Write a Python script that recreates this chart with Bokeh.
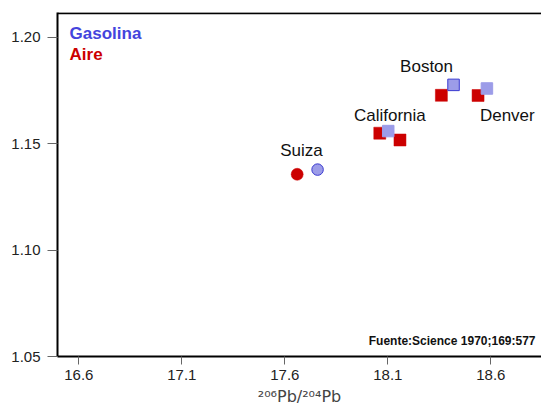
from bokeh.plotting import figure
from bokeh.models import ColumnDataSource, FixedTicker, PrintfTickFormatter, Span, Label
from bokeh.core.properties import value
from bokeh.embed import file_html
from bokeh.resources import INLINE

# ---- data ----
gas_sites = ["Suiza", "California", "Boston", "Denver"]
gas_x = [17.759, 18.102, 18.419, 18.581]
gas_y = [1.1378, 1.1559, 1.1776, 1.1759]
gas_marker = ["circle", "square", "square", "square"]

air_sites = ["Suiza", "California", "California", "Boston", "Denver"]
air_x = [17.660, 18.061, 18.159, 18.360, 18.538]
air_y = [1.1356, 1.1549, 1.1517, 1.1727, 1.1726]
air_marker = ["circle", "square", "square", "square", "square"]

label_names = ["Suiza", "California", "Boston", "Denver"]
label_x = [17.681, 18.110, 18.288, 18.680]
label_y = [1.1466, 1.1634, 1.1864, 1.1634]

x_ticks = [16.6, 17.1, 17.6, 18.1, 18.6]
y_ticks = [1.05, 1.10, 1.15, 1.20]

FONT = "Liberation Sans"
RED = "#cc0000"
BLUE_TXT = "#4444dd"
BLUE_FILL = "#9c9ce8"
BLUE_EDGE = "#3a3ad0"

x_start, x_end = 16.4966, 18.846
y_start, y_end = 1.05, 1.2116

p = figure(width=541, height=409, output_backend="svg", toolbar_location=None,
           x_range=(x_start, x_end), y_range=(y_start, y_end),
           min_border_left=57, min_border_right=0, min_border_top=12, min_border_bottom=53)
p.outline_line_color = None
p.xgrid.visible = False
p.ygrid.visible = False
p.background_fill_color = "white"
p.border_fill_color = "white"

for ax in (p.xaxis[0], p.yaxis[0]):
    ax.axis_line_color = "black"
    ax.axis_line_width = 2
    ax.major_tick_line_color = "#666666"
    ax.major_tick_line_width = 1
    ax.minor_tick_line_color = None
    ax.major_tick_in = 0
    ax.major_label_text_font = FONT
    ax.major_label_text_font_size = "15px"
    ax.major_label_text_color = "#222222"

p.xaxis.ticker = FixedTicker(ticks=x_ticks)
p.xaxis.formatter = PrintfTickFormatter(format="%.1f")
p.xaxis.major_tick_out = 8
p.xaxis.major_label_standoff = 5
p.xaxis.axis_label = "²⁰⁶Pb/²⁰⁴Pb"
p.xaxis.axis_label_text_font = "DejaVu Sans"
p.xaxis.axis_label_text_font_size = "16px"
p.xaxis.axis_label_text_font_style = "normal"
p.xaxis.axis_label_text_color = "#444444"
p.xaxis.axis_label_standoff = 4

p.yaxis.ticker = FixedTicker(ticks=y_ticks)
p.yaxis.formatter = PrintfTickFormatter(format="%.2f")
p.yaxis.major_tick_out = 10
p.yaxis.major_label_standoff = 7

# top border line
p.add_layout(Span(location=1.2112, dimension="width", line_color="black", line_width=2))

# air (red) points
air_src = ColumnDataSource(dict(x=air_x, y=air_y, site=air_sites, marker=air_marker))
p.scatter("x", "y", source=air_src, marker="marker", size=12,
          fill_color=RED, line_color=RED, line_width=0.5)

# gasoline (blue) points
gas_src = ColumnDataSource(dict(x=gas_x, y=gas_y, site=gas_sites, marker=gas_marker,
                                edge=[BLUE_EDGE, BLUE_FILL, BLUE_EDGE, BLUE_FILL]))
p.scatter("x", "y", source=gas_src, marker="marker", size=11.5,
          fill_color=BLUE_FILL, line_color="edge", line_width=1)

# site labels
lab_src = ColumnDataSource(dict(x=label_x, y=label_y, t=label_names))
p.text("x", "y", text="t", source=lab_src, text_font=value(FONT),
       text_font_size="17px", text_color="#111111",
       text_align="center", text_baseline="middle")

# legend texts
p.add_layout(Label(x=16.555, y=1.2019, text="Gasolina", text_font=FONT,
                   text_font_size="17px", text_font_style="bold", text_color=BLUE_TXT,
                   text_align="left", text_baseline="middle"))
p.add_layout(Label(x=16.555, y=1.1920, text="Aire", text_font=FONT,
                   text_font_size="17px", text_font_style="bold", text_color=RED,
                   text_align="left", text_baseline="middle"))

# source note
p.add_layout(Label(x=18.817, y=1.0575, text="Fuente:Science 1970;169:577", text_font=FONT,
                   text_font_size="12px", text_font_style="bold", text_color="#111111",
                   text_align="right", text_baseline="middle"))

open("out.html", "w").write(file_html(p, INLINE))
